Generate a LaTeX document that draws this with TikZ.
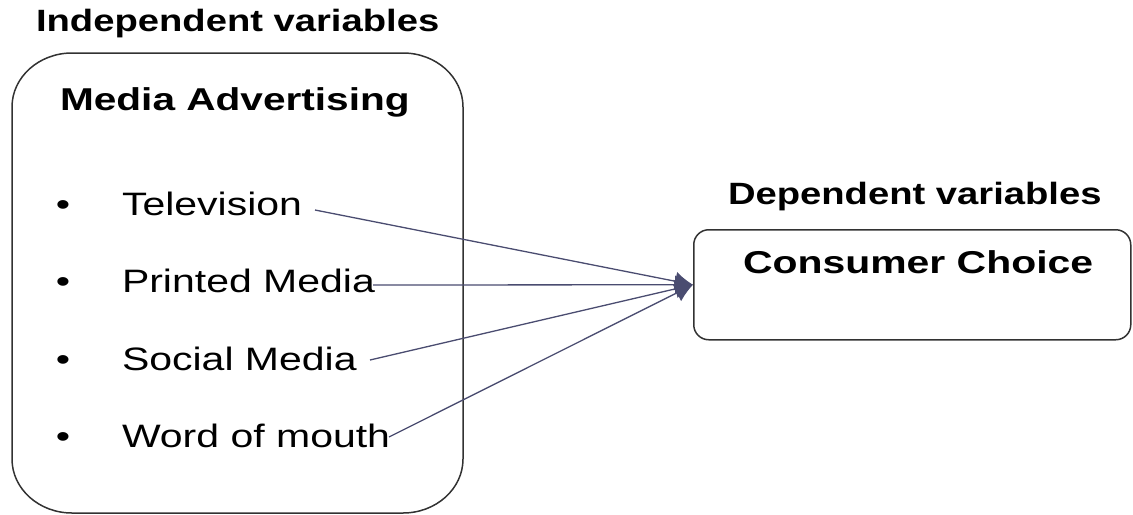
\documentclass[tikz,border=0pt]{standalone}
\usepackage{graphicx}
\usepackage{fontspec}
\setmainfont{Liberation Sans}
\usetikzlibrary{arrows.meta}
\definecolor{linkcol}{RGB}{74,76,112}
\definecolor{boxcol}{RGB}{50,50,50}
\newcommand\wx[2]{\scalebox{#1}[1]{#2}}
\begin{document}
\begin{tikzpicture}[x=0.5pt,y=-0.5pt,
  lbl/.style={anchor=base west,inner sep=0pt,outer sep=0pt},
  headfont/.style={font=\fontsize{15.4}{18}\selectfont\bfseries},
  titlefont/.style={font=\fontsize{15.8}{19}\selectfont\bfseries},
  itemfont/.style={font=\fontsize{16.2}{19}\selectfont},
  bul/.style={anchor=base,inner sep=0pt,font=\fontsize{16}{19}\selectfont},
  boxline/.style={draw=boxcol,line width=0.75pt},
  link/.style={draw=linkcol,line width=0.65pt,-{Latex[length=9pt,width=9.5pt]}}]
\useasboundingbox (0,0) rectangle (1133,514);
% big rounded box (elliptical corners)
\draw[boxline] (12,107) arc[start angle=180,end angle=270,x radius=60,y radius=54]
  -- (403,53) arc[start angle=270,end angle=360,x radius=60,y radius=54]
  -- (463,459) arc[start angle=0,end angle=90,x radius=60,y radius=54]
  -- (72,513) arc[start angle=90,end angle=180,x radius=60,y radius=54] -- cycle;
% consumer choice box
\node[boxline,rounded corners=7.5pt,minimum width=218.5pt,minimum height=55pt,inner sep=0pt,anchor=north west] (ccbox) at (693,229) {};
% headings
\node[lbl,headfont] (indep) at (36,32) {\wx{1.24}{Independent variables}};
\node[lbl,headfont] (dep) at (728,204) {\wx{1.24}{Dependent variables}};
\node[lbl,titlefont] (media) at (60,110) {\wx{1.285}{Media Advertising}};
\node[lbl,titlefont] (cc) at (743,273) {\wx{1.295}{Consumer Choice}};
% bullets and items
\node[bul] (b1) at (63,215) {\wx{1.28}{\textbullet}};
\node[bul] (b2) at (63,292) {\wx{1.28}{\textbullet}};
\node[bul] (b3) at (63,370) {\wx{1.28}{\textbullet}};
\node[bul] (b4) at (63,447) {\wx{1.28}{\textbullet}};
\node[lbl,itemfont] (tv) at (122,215) {\wx{1.265}{Television}};
\node[lbl,itemfont] (pm) at (122,292) {\wx{1.265}{Printed Media}};
\node[lbl,itemfont] (sm) at (122,370) {\wx{1.265}{Social Media}};
\node[lbl,itemfont] (wm) at (122,447) {\wx{1.265}{Word of mouth}};
% connector start points
\coordinate (tvs) at (315,210);
\coordinate (pms) at (373,285);
\coordinate (sms) at (370,360);
\coordinate (wms) at (389,437);
\draw[link] (tvs) -- (ccbox.west);
\draw[link] (pms) -- (ccbox.west);
\draw[link] (sms) -- (ccbox.west);
\draw[link] (wms) -- (ccbox.west);
\end{tikzpicture}
\end{document}
